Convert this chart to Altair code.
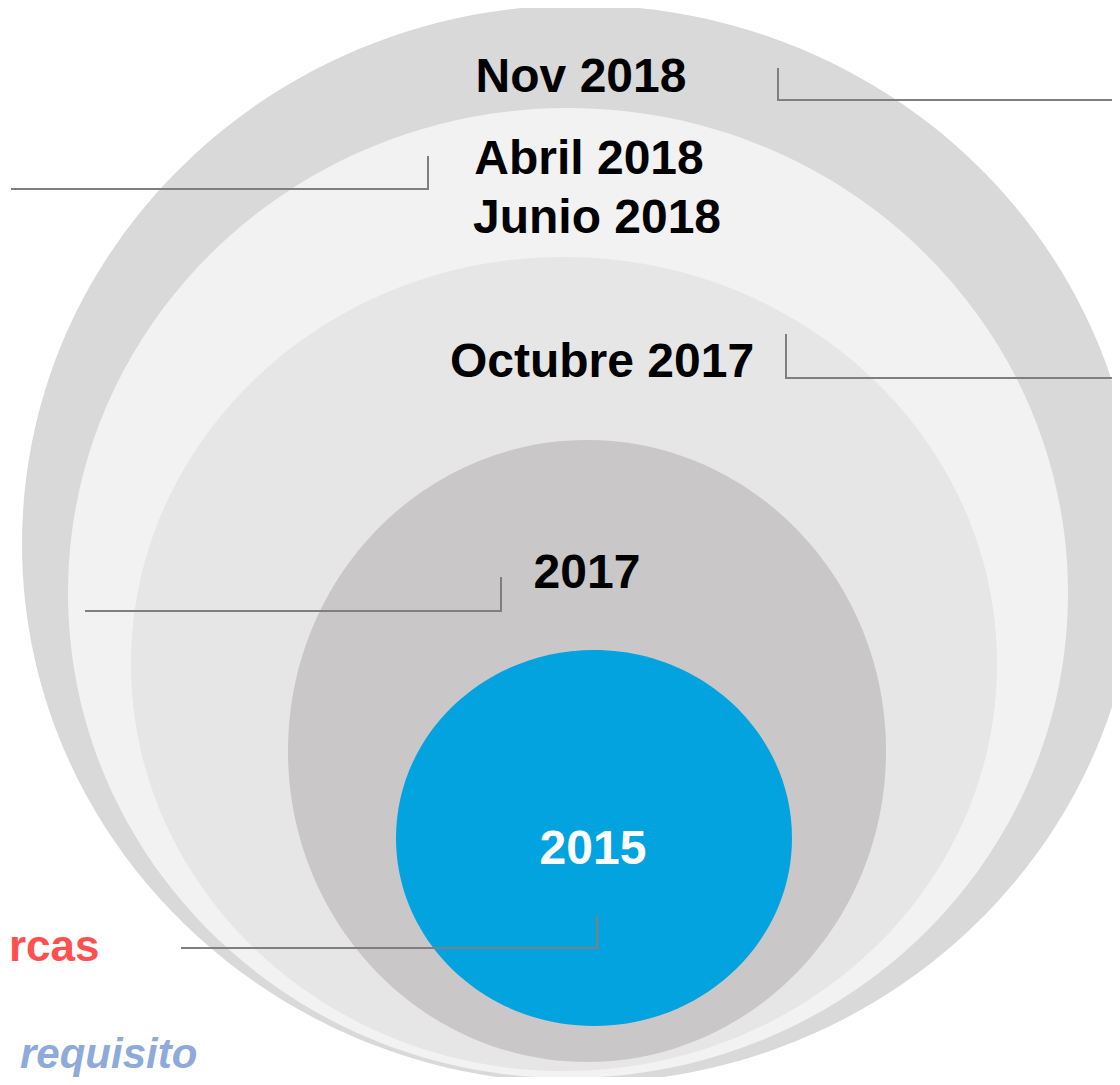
import altair as alt
import pandas as pd

# ---- nested ellipses (outermost first), page-pixel units ----
ring_names = ["Nov 2018", "Abril/Junio 2018", "Octubre 2017", "2017", "2015"]
ring_cx = [580, 568, 564, 587, 594]
ring_cy = [544, 593, 664, 751, 838]
ring_rx = [558, 500, 433, 299, 198]
ring_ry = [539, 485, 407, 311, 188]
ring_colors = ["#d9d9d9", "#f2f2f2", "#e6e6e6", "#c9c7c8", "#02a3df"]

# ---- connector polylines ----
conn_ids = ["nov"] * 3 + ["abr"] * 3 + ["oct"] * 3 + ["y17"] * 3 + ["y15"] * 3
conn_step = [0, 1, 2] * 5
conn_x = [778, 778, 1125, 11, 428, 428, 786, 786, 1125, 85, 501, 501, 181, 597, 597]
conn_y = [68, 100, 100, 189, 189, 156, 334, 378, 378, 611, 611, 577, 948, 948, 915]

# ---- centred labels ----
label_text = ["Nov 2018", "Abril 2018", "Junio 2018", "Octubre 2017", "2017", "2015"]
label_x = [581, 589, 597, 602, 587, 593]
label_y = [92, 174, 233, 377, 588, 864]
label_color = ["#000000", "#000000", "#000000", "#000000", "#000000", "#ffffff"]

# ---- side notes (at the left edge) ----
note_red_text = ["rcas"]
note_red_x = [9]
note_red_y = [961]
note_blue_text = ["requisito"]
note_blue_x = [20]
note_blue_y = [1068]

K = 0.5523


def ellipse_path(rx, ry):
    a = 1.0
    b = ry / rx
    return (
        f"M {a} 0 C {a} {b*K:.4f} {a*K:.4f} {b:.4f} 0 {b:.4f} "
        f"C {-a*K:.4f} {b:.4f} {-a} {b*K:.4f} {-a} 0 "
        f"C {-a} {-b*K:.4f} {-a*K:.4f} {-b:.4f} 0 {-b:.4f} "
        f"C {a*K:.4f} {-b:.4f} {a} {-b*K:.4f} {a} 0 Z"
    )


rings = pd.DataFrame({
    "name": ring_names,
    "cx": ring_cx,
    "cy": ring_cy,
    "color": ring_colors,
    "idx": list(range(len(ring_names))),
    "size": [(2 * r) ** 2 for r in ring_rx],
    "shape": [ellipse_path(rx, ry) for rx, ry in zip(ring_rx, ring_ry)],
})
conns = pd.DataFrame({"id": conn_ids, "step": conn_step, "x": conn_x, "y": conn_y})
labels = pd.DataFrame({"t": label_text, "x": label_x, "y": label_y, "c": label_color})
red = pd.DataFrame({"t": note_red_text, "x": note_red_x, "y": note_red_y})
blue = pd.DataFrame({"t": note_blue_text, "x": note_blue_x, "y": note_blue_y})

# page has 8px margin on every side: view covers page pixels 8..1112 x 8..1077
W, H = 1104, 1069
xs = alt.Scale(domain=[8, 8 + W], nice=False, zero=False)
ys = alt.Scale(domain=[8, 8 + H], nice=False, zero=False, reverse=True)

ring_layer = alt.Chart(rings).mark_point(filled=True, opacity=1, strokeWidth=0, clip=True).encode(
    x=alt.X("cx:Q", scale=xs, axis=None),
    y=alt.Y("cy:Q", scale=ys, axis=None),
    size=alt.Size("size:Q", scale=None),
    shape=alt.Shape("shape:N", scale=None),
    color=alt.Color("color:N", scale=None),
    order=alt.Order("idx:Q"),
)

conn_layer = alt.Chart(conns).mark_line(color="#7f7f7f", strokeWidth=2, clip=True).encode(
    x=alt.X("x:Q", scale=xs, axis=None),
    y=alt.Y("y:Q", scale=ys, axis=None),
    detail="id:N",
    order="step:Q",
)

label_layer = alt.Chart(labels).mark_text(
    font="Liberation Sans", fontWeight="bold", fontSize=48, align="center", baseline="alphabetic"
).encode(
    x=alt.X("x:Q", scale=xs, axis=None),
    y=alt.Y("y:Q", scale=ys, axis=None),
    text="t:N",
    color=alt.Color("c:N", scale=None),
)

red_layer = alt.Chart(red).mark_text(
    font="Liberation Sans", fontWeight="bold", fontSize=44, align="left", baseline="alphabetic",
    color="#ff5050",
).encode(
    x=alt.X("x:Q", scale=xs, axis=None),
    y=alt.Y("y:Q", scale=ys, axis=None),
    text="t:N",
)

blue_layer = alt.Chart(blue).mark_text(
    font="Liberation Sans", fontWeight="bold", fontStyle="italic", fontSize=42, align="left",
    baseline="alphabetic", color="#8eaadb",
).encode(
    x=alt.X("x:Q", scale=xs, axis=None),
    y=alt.Y("y:Q", scale=ys, axis=None),
    text="t:N",
)

chart = alt.layer(ring_layer, conn_layer, label_layer, red_layer, blue_layer).properties(
    width=W, height=H, padding=0, autosize=alt.AutoSizeParams(type="none"), background="#ffffff"
).configure_view(stroke=None)

chart.save("out.html", embed_options={"renderer": "svg", "actions": False})
